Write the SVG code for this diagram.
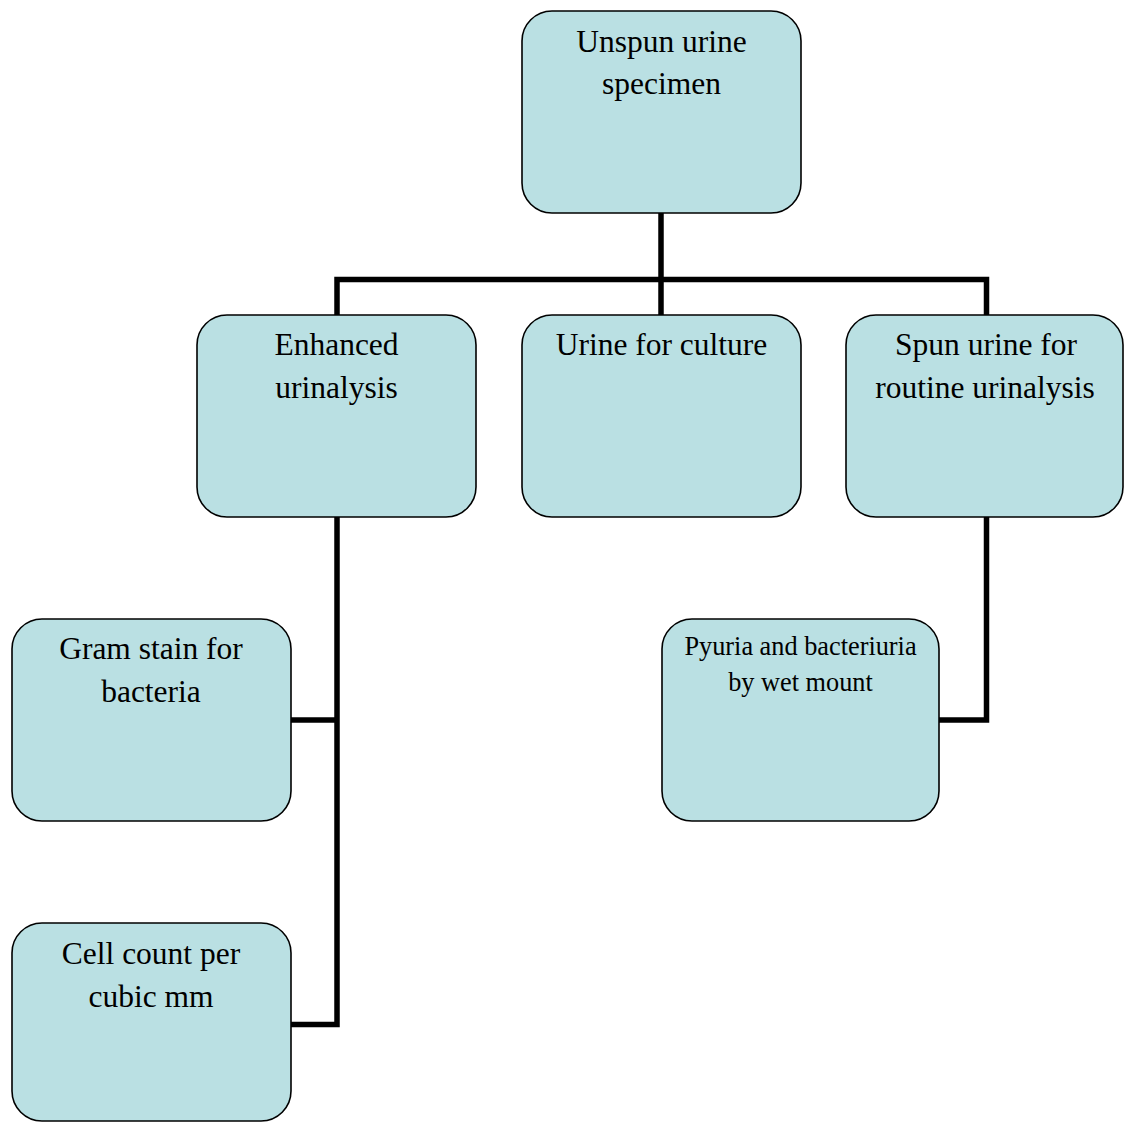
<svg xmlns="http://www.w3.org/2000/svg" width="1124" height="1122" viewBox="0 0 1124 1122">
<style>
.box{fill:#BAE0E3;stroke:#000;stroke-width:1.6}
.t{font-family:"Liberation Serif","Times New Roman",serif;font-size:31.5px;fill:#000;text-anchor:middle}
.s{font-size:26.3px}
.c{fill:none;stroke:#000;stroke-width:5.5;stroke-linejoin:miter}
</style>
<rect width="1124" height="1122" fill="#fff"/>
<g id="connectors">
<path class="c" d="M661,213 V315"/>
<path class="c" d="M337,315 V279.5 H986.5 V315"/>
<path class="c" d="M337,517 V1024.5 H290"/>
<path class="c" d="M337,720 H290"/>
<path class="c" d="M986.5,517 V720 H939"/>
</g>
<g id="n-unspun">
<rect class="box" x="522" y="11" width="279" height="202" rx="30"/>
<text class="t" x="661.5" y="51.5">Unspun urine</text>
<text class="t" x="661.5" y="93.5">specimen</text>
</g>
<g id="n-enhanced">
<rect class="box" x="197" y="315" width="279" height="202" rx="30"/>
<text class="t" x="336.5" y="354.5">Enhanced</text>
<text class="t" x="336.5" y="397.5">urinalysis</text>
</g>
<g id="n-culture">
<rect class="box" x="522" y="315" width="279" height="202" rx="30"/>
<text class="t" x="661.5" y="354.5">Urine for culture</text>
</g>
<g id="n-spun">
<rect class="box" x="846" y="315" width="277" height="202" rx="30"/>
<text class="t" x="986" y="354.5">Spun urine for</text>
<text class="t" x="985" y="397.5">routine urinalysis</text>
</g>
<g id="n-gram">
<rect class="box" x="12" y="619" width="279" height="202" rx="30"/>
<text class="t" x="151" y="659">Gram stain for</text>
<text class="t" x="151" y="701.5">bacteria</text>
</g>
<g id="n-cell">
<rect class="box" x="12" y="923" width="279" height="198" rx="30"/>
<text class="t" x="151" y="963.5">Cell count per</text>
<text class="t" x="151" y="1006.5">cubic mm</text>
</g>
<g id="n-pyuria">
<rect class="box" x="662" y="619" width="277" height="202" rx="30"/>
<text class="t s" x="800.5" y="655">Pyuria and bacteriuria</text>
<text class="t s" x="800.5" y="691">by wet mount</text>
</g>
</svg>
